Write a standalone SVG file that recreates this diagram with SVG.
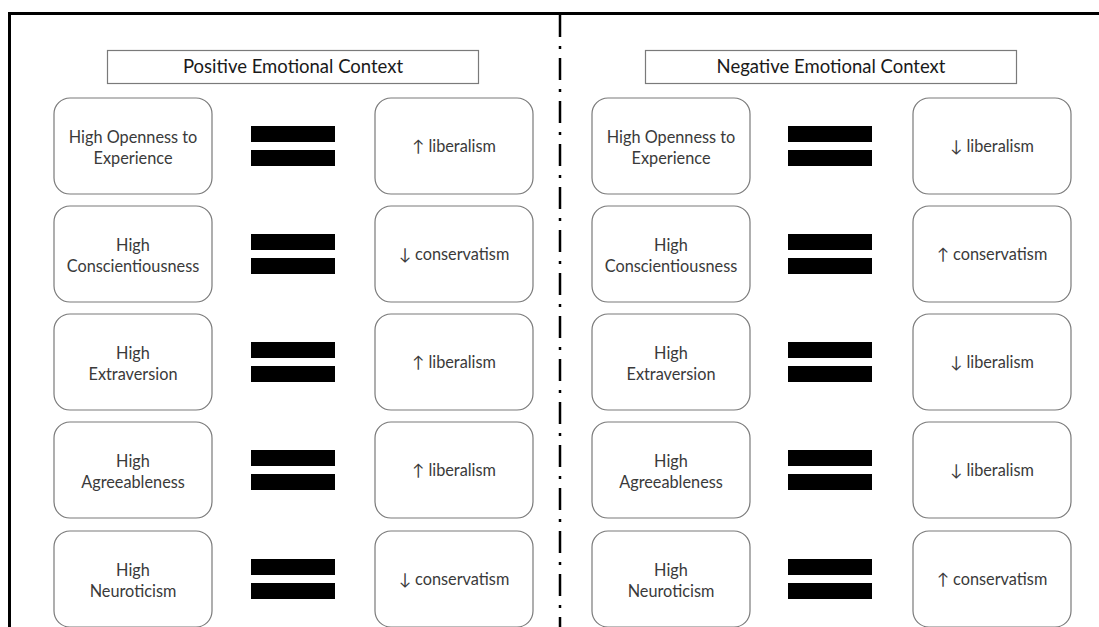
<svg xmlns="http://www.w3.org/2000/svg" width="1099" height="627" viewBox="0 0 1099 627">
  <style>
    .frame { fill: none; stroke: #000; stroke-width: 3; }
    .divider { fill: none; stroke: #000; stroke-width: 2.5; stroke-dasharray: 22 9 3 9; }
    .header { fill: #fff; stroke: #7a7a7a; stroke-width: 1.2; }
    .box { fill: #fff; stroke: #7a7a7a; stroke-width: 1.2; }
    .bar { fill: #000; }
    text { font-family: Lato, "Open Sans", "DejaVu Sans", sans-serif; font-size: 16.3px; fill: #3a3a3a; text-anchor: middle; }
    .title { font-size: 18.5px; fill: #1a1a1a; }
  </style>
  <defs>
    <rect id="nodebox" class="box" width="158" height="96" rx="16" ry="16"/>
    <g id="equals">
      <rect class="bar" x="0" y="28" width="84" height="16"/>
      <rect class="bar" x="0" y="52" width="84" height="16"/>
    </g>
  </defs>
  <rect width="1099" height="627" fill="#fff"/>

  <!-- outer frame and centre divider -->
  <g id="connectors">
    <path class="frame" d="M9.5,627 V13.5 H1099"/>
    <line class="divider" x1="560" y1="15" x2="560" y2="627"/>
  </g>

  <!-- Positive side -->
  <g id="header-positive">
    <rect class="header" x="107.5" y="50.5" width="371" height="33"/>
    <text class="title" x="293" y="73">Positive Emotional Context</text>
  </g>

  <g id="pos-openness">
    <use href="#nodebox" x="54" y="98"/>
    <text x="133" y="143">High Openness to</text>
    <text x="133" y="164">Experience</text>
  </g>
  <g id="pos-eq-1"><use href="#equals" x="251" y="98"/></g>
  <g id="pos-res-1">
    <use href="#nodebox" x="375" y="98"/>
    <text x="454" y="152">↑ liberalism</text>
  </g>

  <g id="pos-conscientiousness">
    <use href="#nodebox" x="54" y="206"/>
    <text x="133" y="251">High</text>
    <text x="133" y="272">Conscientiousness</text>
  </g>
  <g id="pos-eq-2"><use href="#equals" x="251" y="206"/></g>
  <g id="pos-res-2">
    <use href="#nodebox" x="375" y="206"/>
    <text x="454" y="260">↓ conservatism</text>
  </g>

  <g id="pos-extraversion">
    <use href="#nodebox" x="54" y="314"/>
    <text x="133" y="359">High</text>
    <text x="133" y="380">Extraversion</text>
  </g>
  <g id="pos-eq-3"><use href="#equals" x="251" y="314"/></g>
  <g id="pos-res-3">
    <use href="#nodebox" x="375" y="314"/>
    <text x="454" y="368">↑ liberalism</text>
  </g>

  <g id="pos-agreeableness">
    <use href="#nodebox" x="54" y="422"/>
    <text x="133" y="467">High</text>
    <text x="133" y="488">Agreeableness</text>
  </g>
  <g id="pos-eq-4"><use href="#equals" x="251" y="422"/></g>
  <g id="pos-res-4">
    <use href="#nodebox" x="375" y="422"/>
    <text x="454" y="476">↑ liberalism</text>
  </g>

  <g id="pos-neuroticism">
    <use href="#nodebox" x="54" y="531"/>
    <text x="133" y="576">High</text>
    <text x="133" y="597">Neuroticism</text>
  </g>
  <g id="pos-eq-5"><use href="#equals" x="251" y="531"/></g>
  <g id="pos-res-5">
    <use href="#nodebox" x="375" y="531"/>
    <text x="454" y="585">↓ conservatism</text>
  </g>

  <!-- Negative side -->
  <g id="header-negative">
    <rect class="header" x="645.5" y="50.5" width="371" height="33"/>
    <text class="title" x="831" y="73">Negative Emotional Context</text>
  </g>

  <g id="neg-openness">
    <use href="#nodebox" x="592" y="98"/>
    <text x="671" y="143">High Openness to</text>
    <text x="671" y="164">Experience</text>
  </g>
  <g id="neg-eq-1"><use href="#equals" x="788" y="98"/></g>
  <g id="neg-res-1">
    <use href="#nodebox" x="913" y="98"/>
    <text x="992" y="152">↓ liberalism</text>
  </g>

  <g id="neg-conscientiousness">
    <use href="#nodebox" x="592" y="206"/>
    <text x="671" y="251">High</text>
    <text x="671" y="272">Conscientiousness</text>
  </g>
  <g id="neg-eq-2"><use href="#equals" x="788" y="206"/></g>
  <g id="neg-res-2">
    <use href="#nodebox" x="913" y="206"/>
    <text x="992" y="260">↑ conservatism</text>
  </g>

  <g id="neg-extraversion">
    <use href="#nodebox" x="592" y="314"/>
    <text x="671" y="359">High</text>
    <text x="671" y="380">Extraversion</text>
  </g>
  <g id="neg-eq-3"><use href="#equals" x="788" y="314"/></g>
  <g id="neg-res-3">
    <use href="#nodebox" x="913" y="314"/>
    <text x="992" y="368">↓ liberalism</text>
  </g>

  <g id="neg-agreeableness">
    <use href="#nodebox" x="592" y="422"/>
    <text x="671" y="467">High</text>
    <text x="671" y="488">Agreeableness</text>
  </g>
  <g id="neg-eq-4"><use href="#equals" x="788" y="422"/></g>
  <g id="neg-res-4">
    <use href="#nodebox" x="913" y="422"/>
    <text x="992" y="476">↓ liberalism</text>
  </g>

  <g id="neg-neuroticism">
    <use href="#nodebox" x="592" y="531"/>
    <text x="671" y="576">High</text>
    <text x="671" y="597">Neuroticism</text>
  </g>
  <g id="neg-eq-5"><use href="#equals" x="788" y="531"/></g>
  <g id="neg-res-5">
    <use href="#nodebox" x="913" y="531"/>
    <text x="992" y="585">↑ conservatism</text>
  </g>
</svg>
